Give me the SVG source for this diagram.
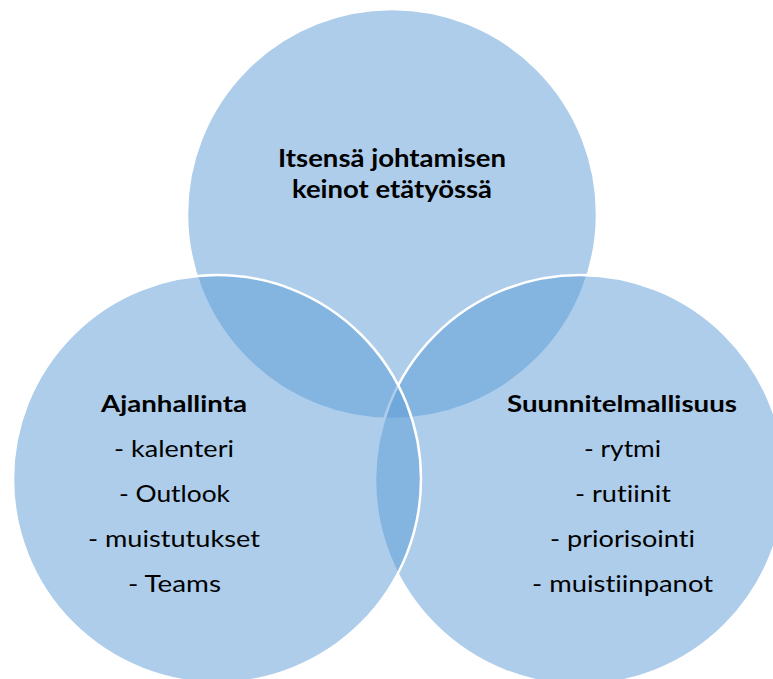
<svg xmlns="http://www.w3.org/2000/svg" width="773" height="679" viewBox="0 0 773 679">
<style>
.c{fill:#5B9BD5;fill-opacity:0.5;stroke:#FFFFFF;stroke-width:2.5}
text{font-family:Lato,"Open Sans","Liberation Sans",sans-serif;fill:#000;text-anchor:middle;font-variant-ligatures:none;font-feature-settings:"liga" 0,"clig" 0}
.b{font-weight:bold}
.t{font-size:25px}
.h{font-size:23px}
.l{font-size:23.5px}
</style>
<rect width="773" height="679" fill="#FFFFFF"/>
<g id="node-top">
<circle class="c" cx="392" cy="214" r="205"/>
<text class="t b" x="392" y="167" textLength="228" lengthAdjust="spacingAndGlyphs">Itsensä johtamisen</text>
<text class="t b" x="392" y="198" textLength="200" lengthAdjust="spacingAndGlyphs">keinot etätyössä</text>
</g>
<g id="node-right">
<circle class="c" cx="580" cy="480" r="205"/>
</g>
<g id="node-left">
<circle class="c" cx="217" cy="479" r="204"/>
</g>
<g id="labels-left">
<text class="h b" x="174" y="412" textLength="146" lengthAdjust="spacingAndGlyphs">Ajanhallinta</text>
<text class="l" x="174" y="457" textLength="120" lengthAdjust="spacingAndGlyphs">- kalenteri</text>
<text class="l" x="174.5" y="502" textLength="111" lengthAdjust="spacingAndGlyphs">- Outlook</text>
<text class="l" x="174" y="547" textLength="172" lengthAdjust="spacingAndGlyphs">- muistutukset</text>
<text class="l" x="174.5" y="592" textLength="93" lengthAdjust="spacingAndGlyphs">- Teams</text>
</g>
<g id="labels-right">
<text class="h b" x="622" y="412" textLength="230" lengthAdjust="spacingAndGlyphs">Suunnitelmallisuus</text>
<text class="l" x="622.5" y="457" textLength="77" lengthAdjust="spacingAndGlyphs">- rytmi</text>
<text class="l" x="623" y="502" textLength="96" lengthAdjust="spacingAndGlyphs">- rutiinit</text>
<text class="l" x="622.5" y="547" textLength="145" lengthAdjust="spacingAndGlyphs">- priorisointi</text>
<text class="l" x="622.5" y="592" textLength="181" lengthAdjust="spacingAndGlyphs">- muistiinpanot</text>
</g>
<g id="connectors"/>
</svg>
